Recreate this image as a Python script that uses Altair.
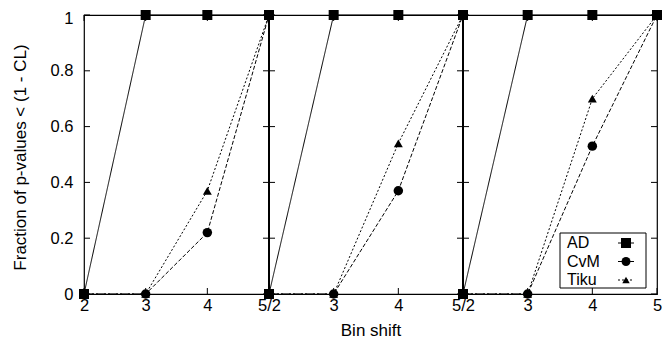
import altair as alt
import pandas as pd

# ---- data ----
shifts = [2, 3, 4, 5]
panels = [1, 2, 3]
series = ["AD", "CvM", "Tiku"]
ad_values = [[0, 1, 1, 1], [0, 1, 1, 1], [0, 1, 1, 1]]
cvm_values = [[0, 0, 0.22, 1], [0, 0, 0.37, 1], [0, 0, 0.53, 1]]
tiku_values = [[0, 0, 0.37, 1], [0, 0, 0.54, 1], [0, 0, 0.70, 1]]
x_tick_labels = ["2", "3", "4", "5/2", "3", "4", "5/2", "3", "4", "5"]
y_ticks = [0, 0.2, 0.4, 0.6, 0.8, 1]

# ---- styles ----
dashes = [[1, 0], [4, 2], [2, 2]]
shapes = ["square", "circle", "triangle-up"]
sizes = [100, 80, 55]
FONT = "Liberation Sans"

span = len(shifts) - 1
rows = []
for name, vals in zip(series, [ad_values, cvm_values, tiku_values]):
    for p, pvals in zip(panels, vals):
        for s, v in zip(shifts, pvals):
            rows.append({"series": name, "panel": p, "shift": s,
                         "pos": (p - 1) * span + (s - shifts[0]), "value": v})
df = pd.DataFrame(rows)

n_pos = span * len(panels)
boundaries = [k * span for k in range(len(panels) + 1)]

W, H = 573, 279
xscale = alt.Scale(domain=boundaries, range=[0, 185, 379, 573], nice=False, zero=False)
yscale = alt.Scale(domain=[0, 1], nice=False, zero=False)

label_expr = "[" + ",".join('"%s"' % t for t in x_tick_labels) + "][datum.value]"
xaxis = alt.Axis(values=list(range(n_pos + 1)), labelExpr=label_expr, title="Bin shift",
                 labelPadding=3, labelFlush=False, titleY=41, titleBaseline="alphabetic")
yaxis = alt.Axis(values=y_ticks, format="~g", title="Fraction of p-values < (1 - CL)",
                 labelPadding=11, labelFlush=False,
                 labelOffset=alt.ExprRef("datum.value == 1 ? 3 : 0"),
                 titleX=-64, titleY=142, titleAngle=270,
                 titleAlign="center", titleBaseline="middle")


def X(field):
    return alt.X(field, type="quantitative", scale=xscale, axis=xaxis)


def Y(field):
    return alt.Y(field, type="quantitative", scale=yscale, axis=yaxis)


dash_scale = alt.Scale(domain=series, range=dashes)
shape_scale = alt.Scale(domain=series, range=shapes)
size_scale = alt.Scale(domain=series, range=sizes)

# inward ticks
ytick_left = pd.DataFrame([{"b": b, "v": v} for b in boundaries[:-1] for v in y_ticks])
ytick_right = pd.DataFrame([{"b": b, "v": v} for b in boundaries[1:] for v in y_ticks])
xtick_df = pd.DataFrame([{"pos": i, "y0": 0, "y1": 1} for i in range(n_pos + 1)])

t1 = alt.Chart(ytick_left).mark_rule(color="black", strokeWidth=1, x2Offset=6).encode(
    x=X("b"), x2=alt.X2("b"), y=Y("v"))
t2 = alt.Chart(ytick_right).mark_rule(color="black", strokeWidth=1, xOffset=-6).encode(
    x=X("b"), x2=alt.X2("b"), y=Y("v"))
t3 = alt.Chart(xtick_df).mark_rule(color="black", strokeWidth=1, y2Offset=-6).encode(
    x=X("pos"), y=Y("y0"), y2=alt.Y2("y0"))
t4 = alt.Chart(xtick_df).mark_rule(color="black", strokeWidth=1, y2Offset=6).encode(
    x=X("pos"), y=Y("y1"), y2=alt.Y2("y1"))

sep = alt.Chart(pd.DataFrame({"b": boundaries[1:-1]})).mark_rule(
    color="black", strokeWidth=2).encode(x=X("b"))

lines = alt.Chart(df).mark_line(color="black", strokeWidth=1).encode(
    x=X("pos"), y=Y("value"),
    strokeDash=alt.StrokeDash("series:N", scale=dash_scale, legend=None),
    detail="panel:N", order="pos:Q")

points = alt.Chart(df).mark_point(color="black", filled=True, opacity=1).encode(
    x=X("pos"), y=Y("value"),
    shape=alt.Shape("series:N", scale=shape_scale, legend=None),
    size=alt.Size("series:N", scale=size_scale, legend=None))

# ---- legend box ----
legend_layers = []
box = alt.Chart(pd.DataFrame({"series": series[:1]})).mark_rect(
    fill="white", stroke="black", strokeWidth=1).encode(
    x=alt.value(476), x2=alt.value(562), y=alt.value(218), y2=alt.value(273))
legend_layers.append(box)
row_y = [228, 246.5, 265]
for i, name in enumerate(series):
    d = pd.DataFrame({"series": [name]})
    legend_layers.append(alt.Chart(d).mark_text(
        align="left", baseline="middle", fontSize=16, font=FONT, color="black").encode(
        text="series:N", x=alt.value(483), y=alt.value(row_y[i])))
    legend_layers.append(alt.Chart(d).mark_rule(
        color="black", strokeWidth=1, strokeDash=dashes[i]).encode(
        x=alt.value(534), x2=alt.value(550), y=alt.value(row_y[i])))
    legend_layers.append(alt.Chart(d).mark_point(
        color="black", filled=True, opacity=1, shape=shapes[i], size=sizes[i]).encode(
        x=alt.value(542), y=alt.value(row_y[i])))

chart = alt.layer(t1, t2, t3, t4, lines, sep, points, *legend_layers).properties(
    width=W, height=H,
    autosize=alt.AutoSizeParams(type="none"),
    padding={"left": 76, "top": 7, "right": 6, "bottom": 45},
).configure(font=FONT).configure_view(
    stroke="black", strokeWidth=1.2
).configure_axis(
    grid=False, domain=False, ticks=False,
    labelFont=FONT, titleFont=FONT, labelFontSize=16.5, titleFontSize=17,
    titleFontWeight="normal", labelColor="black", titleColor="black",
)

chart.save("out.html", embed_options={"renderer": "svg", "actions": False})
